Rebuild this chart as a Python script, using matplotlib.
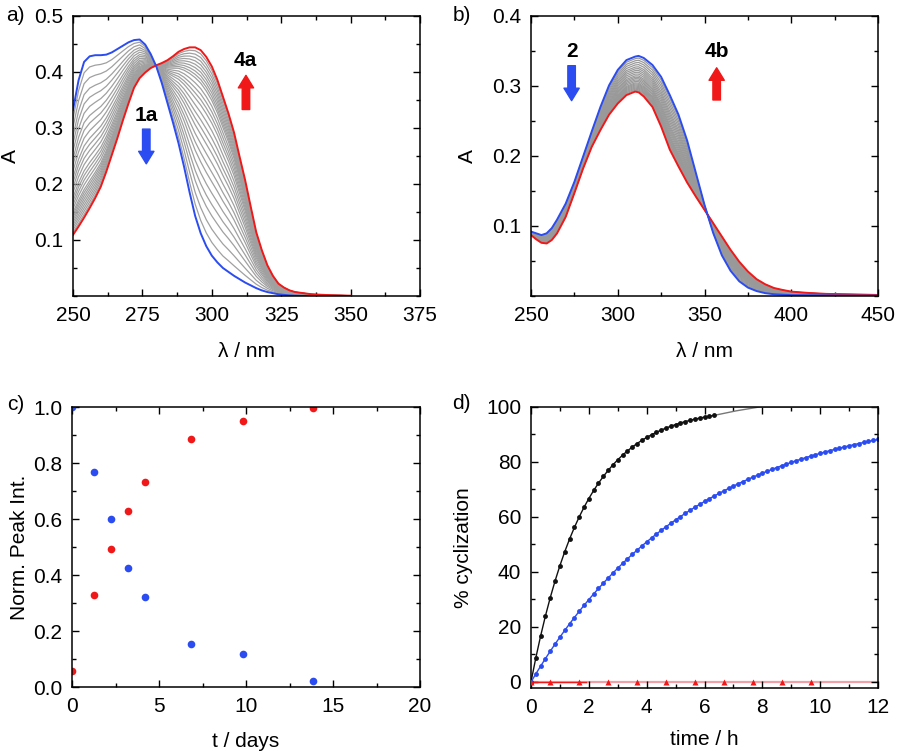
import numpy as np
import matplotlib
matplotlib.use("Agg")
import matplotlib.pyplot as plt
from matplotlib.ticker import MultipleLocator, FormatStrFormatter

plt.rcParams['font.family'] = ['Liberation Sans', 'DejaVu Sans']
plt.rcParams['font.size'] = 15

BLUE = '#2b4cf0'
RED = '#f01818'
FS = 15

# ---- panel a: spectra 1a -> 4a
wl_a = [250, 252, 254, 256, 258, 260, 262, 264, 266, 268, 270, 272, 274, 276, 278,
        280, 282, 284, 286, 288, 290, 292, 294, 296, 298, 300, 302, 304, 306, 308,
        310, 312, 314, 316, 318, 320, 322, 324, 326, 328, 330, 333, 336, 340, 345, 350]
abs_1a = [0.332, 0.385, 0.418, 0.428, 0.430, 0.430, 0.431, 0.435, 0.441, 0.447, 0.453,
          0.457, 0.458, 0.449, 0.432, 0.410, 0.380, 0.345, 0.310, 0.273, 0.231, 0.185,
          0.143, 0.112, 0.089, 0.072, 0.060, 0.050, 0.043, 0.036, 0.030, 0.024, 0.019,
          0.014, 0.010, 0.007, 0.005, 0.003, 0.002, 0.001, 0.0005, 0.0, 0.0, 0.0, 0.0, 0.0]
abs_4a = [0.109, 0.124, 0.140, 0.157, 0.175, 0.195, 0.222, 0.252, 0.282, 0.314, 0.344,
          0.372, 0.389, 0.399, 0.407, 0.412, 0.416, 0.421, 0.428, 0.436, 0.441, 0.444,
          0.444, 0.439, 0.427, 0.410, 0.386, 0.356, 0.326, 0.292, 0.249, 0.207, 0.160,
          0.114, 0.082, 0.055, 0.036, 0.022, 0.015, 0.010, 0.007, 0.005, 0.003, 0.002,
          0.001, 0.0005]
# conversion of each intermediate spectrum (grey traces)
conv_a = [0.07, 0.14, 0.21, 0.27, 0.33, 0.39, 0.44, 0.49, 0.54, 0.58, 0.62, 0.66, 0.70,
          0.73, 0.76, 0.79, 0.82, 0.84, 0.86, 0.88, 0.90, 0.92, 0.94, 0.96, 0.98]

# ---- panel b: spectra 2 -> 4b
wl_b = [250, 253, 256, 259, 262, 265, 270, 275, 280, 285, 290, 295, 300, 305, 310, 312,
        315, 320, 325, 330, 335, 340, 345, 350, 355, 360, 365, 370, 375, 380, 385, 390,
        395, 400, 410, 420, 430, 440, 450]
abs_2 = [0.092, 0.0895, 0.087, 0.0895, 0.097, 0.109, 0.132, 0.163, 0.199, 0.235, 0.270,
         0.301, 0.323, 0.337, 0.342, 0.343, 0.340, 0.330, 0.313, 0.287, 0.259, 0.222,
         0.176, 0.130, 0.090, 0.058, 0.036, 0.021, 0.012, 0.007, 0.004, 0.0025, 0.0018,
         0.0012, 0.001, 0.0008, 0.0006, 0.0005, 0.0005]
abs_4b = [0.087, 0.081, 0.076, 0.075, 0.080, 0.0895, 0.113, 0.147, 0.182, 0.213, 0.237,
          0.259, 0.275, 0.287, 0.292, 0.291, 0.285, 0.270, 0.242, 0.209, 0.185, 0.162,
          0.142, 0.123, 0.104, 0.085, 0.066, 0.049, 0.035, 0.024, 0.0167, 0.0114, 0.0086,
          0.0062, 0.0043, 0.003, 0.0024, 0.002, 0.0014]
conv_b = [0.06, 0.12, 0.18, 0.24, 0.30, 0.35, 0.40, 0.45, 0.50, 0.55, 0.59, 0.63, 0.67,
          0.71, 0.75, 0.78, 0.81, 0.84, 0.87, 0.90, 0.93, 0.96]

# ---- panel c: normalised peak intensities
t_days = [0.0, 1.26, 2.22, 3.2, 4.21, 6.84, 9.85, 13.83]
peak_1a = [1.0, 0.768, 0.599, 0.425, 0.323, 0.155, 0.119, 0.020]
peak_4a = [0.057, 0.329, 0.493, 0.629, 0.731, 0.887, 0.950, 0.998]

# ---- panel d: % cyclization vs time (points every 10 min)
t_black = [i / 6 for i in range(39)]
cyc_black = [0.0, 8.76, 16.75, 24.04, 30.70, 36.77, 42.31, 47.36, 51.97, 56.18, 60.02,
             63.52, 66.71, 69.63, 72.29, 74.72, 76.93, 78.95, 80.80, 82.48, 84.01, 85.41,
             86.69, 87.86, 88.92, 89.89, 90.78, 91.58, 92.32, 92.99, 93.61, 94.17, 94.68,
             95.14, 95.57, 95.96, 96.31, 96.64, 96.93]
t_black_tail = [6.33, 7.1, 7.9, 12.0]
cyc_black_tail = [96.93, 98.6, 100.0, 100.0]
t_blue = [i / 6 for i in range(73)]
cyc_blue = [0.0, 2.92, 5.76, 8.52, 11.19, 13.79, 16.31, 18.75, 21.13, 23.43, 25.67, 27.84,
            29.95, 32.00, 33.99, 35.92, 37.79, 39.61, 41.37, 43.09, 44.75, 46.37, 47.93,
            49.46, 50.93, 52.37, 53.76, 55.11, 56.42, 57.70, 58.93, 60.13, 61.30, 62.43,
            63.53, 64.60, 65.63, 66.64, 67.61, 68.56, 69.48, 70.37, 71.23, 72.08, 72.89,
            73.68, 74.45, 75.20, 75.93, 76.63, 77.31, 77.98, 78.62, 79.24, 79.85, 80.44,
            81.01, 81.57, 82.11, 82.63, 83.14, 83.63, 84.11, 84.57, 85.02, 85.46, 85.89,
            86.30, 86.70, 87.09, 87.47, 87.83, 88.19]
t_red = [0.0, 0.67, 1.67, 2.67, 3.67, 4.67, 5.67, 6.67, 7.67, 8.67, 9.67]
cyc_red = [0.0, 0.0, 0.0, 0.0, 0.0, 0.0, 0.0, 0.0, 0.0, 0.0, 0.0]
t_red_line = [0.0, 12.0]
cyc_red_line = [0.0, 0.0]


def style_axes(ax, xmaj, xmin, ymaj, ymin):
    ax.xaxis.set_major_locator(MultipleLocator(xmaj))
    ax.xaxis.set_minor_locator(MultipleLocator(xmin))
    ax.yaxis.set_major_locator(MultipleLocator(ymaj))
    ax.yaxis.set_minor_locator(MultipleLocator(ymin))
    ax.tick_params(which='both', direction='in', top=True, right=True, width=1.0)
    ax.tick_params(which='major', length=5, labelsize=FS, pad=7)
    ax.tick_params(which='minor', length=3)
    for s in ax.spines.values():
        s.set_linewidth(1.1)


def block_arrow(ax, x, y0, y1, color):
    ax.annotate('', xy=(x, y1), xytext=(x, y0),
                arrowprops=dict(arrowstyle='simple,head_length=0.45,head_width=0.55,tail_width=0.27',
                                color=color, shrinkA=0, shrinkB=0, mutation_scale=20))


fig = plt.figure(figsize=(9, 7.51), dpi=100)

# panel a
ax = fig.add_axes([0.0811, 0.6059, 0.3856, 0.3728])
A1 = np.array(abs_1a)
A4 = np.array(abs_4a)
for f in conv_a:
    ax.plot(wl_a, (1 - f) * A1 + f * A4, color='#a0a0a0', lw=0.9)
ax.plot(wl_a, abs_4a, color=RED, lw=1.4)
ax.plot(wl_a, abs_1a, color=BLUE, lw=1.4)
ax.set_xlim(250, 375)
ax.set_ylim(0, 0.5)
style_axes(ax, 25, 12.5, 0.1, 0.05)
ax.set_yticks([0.1, 0.2, 0.3, 0.4, 0.5])
ax.set_xlabel('λ / nm', fontsize=FS)
ax.set_ylabel('A', fontsize=FS)
ax.yaxis.set_label_coords(-0.153, 0.5)
ax.xaxis.set_label_coords(0.5, -0.164)
ax.text(276.4, 0.323, '1a', fontsize=FS, fontweight='bold', ha='center', va='center')
block_arrow(ax, 276.4, 0.298, 0.236, BLUE)
ax.text(311.9, 0.421, '4a', fontsize=FS, fontweight='bold', ha='center', va='center')
block_arrow(ax, 312.3, 0.333, 0.394, RED)

# panel b
ax = fig.add_axes([0.59, 0.6059, 0.3856, 0.3728])
B1 = np.array(abs_2)
B4 = np.array(abs_4b)
for f in conv_b:
    ax.plot(wl_b, (1 - f) * B1 + f * B4, color='#999999', lw=0.9)
ax.plot(wl_b, abs_4b, color=RED, lw=1.4)
ax.plot(wl_b, abs_2, color=BLUE, lw=1.4)
ax.set_xlim(250, 450)
ax.set_ylim(0, 0.4)
style_axes(ax, 50, 25, 0.1, 0.05)
ax.set_yticks([0.1, 0.2, 0.3, 0.4])
ax.set_xlabel('λ / nm', fontsize=FS)
ax.set_ylabel('A', fontsize=FS)
ax.yaxis.set_label_coords(-0.156, 0.5)
ax.xaxis.set_label_coords(0.5, -0.164)
ax.text(273.4, 0.349, '2', fontsize=FS, fontweight='bold', ha='center', va='center')
block_arrow(ax, 273.4, 0.329, 0.279, BLUE)
ax.text(356.9, 0.349, '4b', fontsize=FS, fontweight='bold', ha='center', va='center')
block_arrow(ax, 357.0, 0.280, 0.326, RED)

# panel c
ax = fig.add_axes([0.08, 0.0852, 0.3867, 0.3728])
ax.plot(t_days, peak_1a, 'o', color=BLUE, ms=5.5, mec='none')
ax.plot(t_days, peak_4a, 'o', color=RED, ms=5.5, mec='none')
ax.set_xlim(0, 20)
ax.set_ylim(0, 1.0)
style_axes(ax, 5, 2.5, 0.2, 0.1)
ax.yaxis.set_major_formatter(FormatStrFormatter('%.1f'))
ax.set_xlabel('t / days', fontsize=FS)
ax.set_ylabel('Norm. Peak Int.', fontsize=FS)
ax.yaxis.set_label_coords(-0.124, 0.5)
ax.xaxis.set_label_coords(0.5, -0.161)

# panel d
ax = fig.add_axes([0.59, 0.0839, 0.3856, 0.3742])
ax.plot(t_red_line, cyc_red_line, color='#f2a0a8', lw=1.6, zorder=1)
ax.plot([0.0, 1.9], [0.0, 0.0], color=RED, lw=1.0, zorder=2)
ax.plot(t_red, cyc_red, '^', color=RED, ms=4, mec='none', zorder=3)
ax.plot(t_black_tail, cyc_black_tail, color='#777777', lw=1.0)
ax.plot(t_black, cyc_black, '-o', color='#111111', lw=1.0, ms=3.5, mec='none')
ax.plot(t_blue, cyc_blue, '-o', color=BLUE, lw=1.0, ms=3.5, mec='none')
ax.set_xlim(0, 12)
ax.set_ylim(-2.2, 100)
style_axes(ax, 2, 1, 20, 10)
ax.set_xlabel('time / h', fontsize=FS)
ax.set_ylabel('% cyclization', fontsize=FS)
ax.yaxis.set_label_coords(-0.167, 0.5)
ax.xaxis.set_label_coords(0.5, -0.149)

fig.text(0.017, 0.98, 'a)', fontsize=FS, ha='center', va='center')
fig.text(0.513, 0.98, 'b)', fontsize=FS, ha='center', va='center')
fig.text(0.018, 0.461, 'c)', fontsize=FS, ha='center', va='center')
fig.text(0.513, 0.463, 'd)', fontsize=FS, ha='center', va='center')

fig.savefig('out.png', dpi=100)
